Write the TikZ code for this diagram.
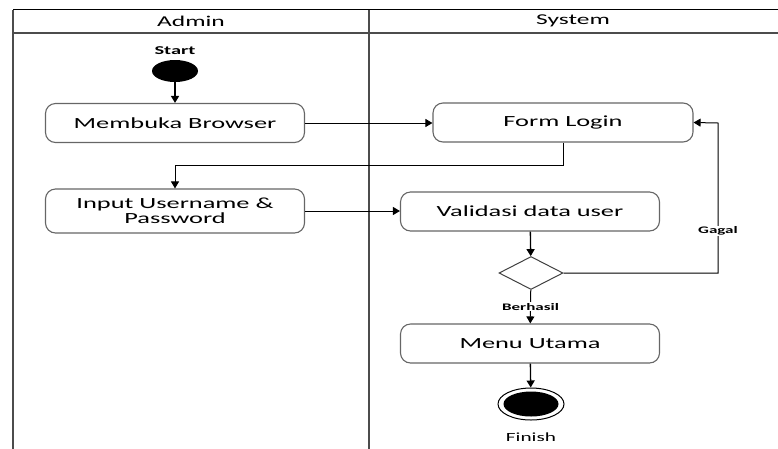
\documentclass[tikz,border=0pt]{standalone}
\usepackage{fontspec}
\setmainfont{Carlito}[FakeStretch=1.7]
\usetikzlibrary{arrows.meta,shapes.geometric}

\tikzset{
  act/.style={draw=black!60, line width=1.1pt, rounded corners=10pt,
    minimum width=259pt, minimum height=39pt, inner sep=0pt, align=center,
    font=\fontsize{15.5}{15}\selectfont},
  flow/.style={line width=1pt, -{Triangle[length=7pt,width=8pt]}},
  tag/.style={font=\bfseries\fontsize{10}{11}\selectfont, fill=white, inner sep=1pt},
  lane/.style={black!70, line width=1.6pt},
}

\begin{document}
\begin{tikzpicture}[x=1pt,y=-1pt]
\useasboundingbox (0,0) rectangle (778,448);

% swimlanes
\draw[line width=0.8pt] (13,9.5) -- (780,9.5);
\draw[lane] (13,33) -- (780,33);
\draw[lane, line width=2pt] (13,9.5) -- (13,452);
\draw[lane] (369,9.5) -- (369,452);
\node[font=\fontsize{15}{16}\selectfont] (admin) at (191,21) {Admin};
\node[font=\fontsize{15}{16}\selectfont] (system) at (573,21) {System};

% start
\node[font=\bfseries\fontsize{12}{12}\selectfont] (startlabel) at (175,51) {Start};
\node[ellipse, fill=black, minimum width=46pt, minimum height=22pt, inner sep=0pt] (start) at (175,71) {};

% activities
\node[act] (browser) at (175,123) {Membuka Browser};
\node[act, minimum height=44pt] (input) at (175,211) {Input Username \&\\Password};
\node[act, minimum width=260pt] (form) at (563,122.5) {Form Login};
\node[act] (valid) at (530,211.5) {Validasi data user};
\node[diamond, draw=black!75, line width=1pt, minimum width=64pt, minimum height=33pt, inner sep=0pt] (decide) at (531,273) {};
\node[act] (menu) at (530,343.5) {Menu Utama};

% finish
\node[ellipse, draw=black, line width=1pt, minimum width=66pt, minimum height=32pt, inner sep=0pt] (finish) at (531,404) {};
\node[ellipse, fill=black, minimum width=55pt, minimum height=25pt, inner sep=0pt] (finishdot) at (finish.center) {};
\node[font=\fontsize{12.5}{13}\selectfont] (finishlabel) at (531,437) {Finish};

% flows
\coordinate (gagalturn) at (718,123);
\draw[flow, line width=1.3pt] (start) -- (browser);
\draw[flow] (browser.east) -- (browser.east -| form.west);
\draw[flow] (form.south) -- ++(0,23) -| (input.north);
\draw[flow] (input.east) -- (input.east -| valid.west);
\draw[flow, line width=1.3pt] (valid) -- (decide);
\draw[flow] (decide.east) -| node[tag, pos=0.64] {Gagal} (gagalturn) -- (form.east);
\draw[flow] (decide) -- node[tag] {Berhasil} (menu);
\draw[flow, line width=1.3pt] (menu) -- (finish);
\end{tikzpicture}
\end{document}
